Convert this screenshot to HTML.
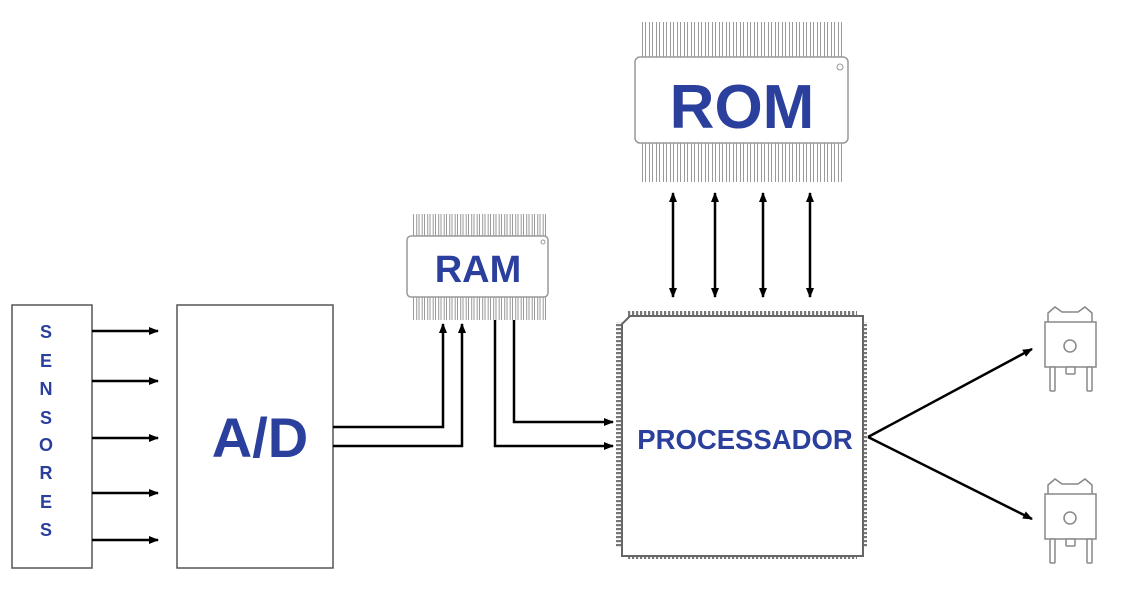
<!DOCTYPE html>
<html><head><meta charset="utf-8"><style>
html,body{margin:0;padding:0;background:#fff}
svg{display:block}
text{font-family:"Liberation Sans",sans-serif;font-weight:bold;fill:#2b3f9c}
</style></head><body>
<svg width="1133" height="598" viewBox="0 0 1133 598" xmlns="http://www.w3.org/2000/svg">
<defs>
<marker id="ah" markerWidth="10" markerHeight="10" refX="9" refY="5" orient="auto" markerUnits="userSpaceOnUse">
<path d="M0,1 L10,5 L0,9 Z" fill="#000"/></marker>
<marker id="ahs" markerWidth="10" markerHeight="10" refX="1" refY="5" orient="auto" markerUnits="userSpaceOnUse">
<path d="M10,1 L0,5 L10,9 Z" fill="#000"/></marker>
<pattern id="pinV" width="7" height="600" patternUnits="userSpaceOnUse">
<rect x="1.5" y="-5" width="4" height="610" rx="1.5" fill="#fff" stroke="#9a9a9a" stroke-width="1"/></pattern>
<pattern id="pinV2" width="5.5" height="600" patternUnits="userSpaceOnUse">
<rect x="1" y="-5" width="3.2" height="610" rx="1.2" fill="#fff" stroke="#9a9a9a" stroke-width="1"/></pattern>
<pattern id="pq" width="4" height="4" patternUnits="userSpaceOnUse">
<rect x="0" y="0" width="2.2" height="4" fill="#777"/></pattern>
<pattern id="pqv" width="4" height="4" patternUnits="userSpaceOnUse">
<rect x="0" y="0" width="4" height="2.2" fill="#777"/></pattern>
</defs>

<!-- Sensors -->
<rect x="12" y="305" width="80" height="263" fill="#fff" stroke="#555" stroke-width="1.5"/>
<g font-size="18" text-anchor="middle">
<text x="46" y="338">S</text><text x="46" y="367">E</text><text x="46" y="395">N</text><text x="46" y="424">S</text>
<text x="46" y="451">O</text><text x="46" y="479">R</text><text x="46" y="508">E</text><text x="46" y="536">S</text>
</g>
<g stroke="#000" stroke-width="2.5" marker-end="url(#ah)">
<line x1="92" y1="331" x2="158" y2="331"/><line x1="92" y1="381" x2="158" y2="381"/>
<line x1="92" y1="438" x2="158" y2="438"/><line x1="92" y1="493" x2="158" y2="493"/>
<line x1="92" y1="540" x2="158" y2="540"/>
</g>

<!-- A/D -->
<rect x="177" y="305" width="156" height="263" fill="#fff" stroke="#555" stroke-width="1.5"/>
<text x="260" y="457" font-size="56" text-anchor="middle">A/D</text>

<!-- RAM -->
<rect x="412" y="214" width="134" height="24" fill="url(#pinV2)"/>
<rect x="412" y="295" width="134" height="25" fill="url(#pinV2)"/>
<rect x="407" y="236" width="141" height="61" rx="4" fill="#fff" stroke="#999" stroke-width="1.5"/>
<circle cx="543" cy="242" r="2" fill="none" stroke="#999"/>
<text x="478" y="282" font-size="38" text-anchor="middle">RAM</text>

<!-- A/D to RAM -->
<g fill="none" stroke="#000" stroke-width="2.5">
<polyline points="333,427 443,427 443,324" marker-end="url(#ah)"/>
<polyline points="333,446 462,446 462,324" marker-end="url(#ah)"/>
<polyline points="514,320 514,422 613,422" marker-end="url(#ah)"/>
<polyline points="495,320 495,446 613,446" marker-end="url(#ah)"/>
</g>

<!-- ROM -->
<rect x="640" y="22" width="205" height="36" fill="url(#pinV)"/>
<rect x="640" y="142" width="205" height="40" fill="url(#pinV)"/>
<rect x="635" y="57" width="213" height="86" rx="5" fill="#fff" stroke="#999" stroke-width="1.5"/>
<circle cx="840" cy="67" r="3" fill="none" stroke="#999"/>
<text x="742" y="128" font-size="62" text-anchor="middle">ROM</text>

<!-- ROM-proc arrows -->
<g stroke="#000" stroke-width="2.5" marker-end="url(#ah)" marker-start="url(#ahs)">
<line x1="673" y1="193" x2="673" y2="297"/><line x1="715" y1="193" x2="715" y2="297"/>
<line x1="763" y1="193" x2="763" y2="297"/><line x1="810" y1="193" x2="810" y2="297"/>
</g>

<!-- Processor -->
<rect x="627" y="311" width="230" height="7" fill="url(#pq)"/>
<rect x="627" y="552" width="230" height="7" fill="url(#pq)"/>
<rect x="616" y="322" width="7" height="226" fill="url(#pqv)"/>
<rect x="860" y="322" width="7" height="226" fill="url(#pqv)"/>
<path d="M630,316 L863,316 L863,556 L622,556 L622,324 Z" fill="#fff" stroke="#666" stroke-width="2"/>
<text x="745" y="449" font-size="27.5" text-anchor="middle">PROCESSADOR</text>

<!-- outputs -->
<g stroke="#000" stroke-width="2.5" marker-end="url(#ah)">
<line x1="868" y1="437" x2="1032" y2="349"/>
<line x1="868" y1="437" x2="1032" y2="519"/>
</g>

<!-- transistors -->
<g id="tr" fill="#fff" stroke="#888" stroke-width="1.5">
<path d="M1048,322 L1048,313 L1055,307 L1062,312 L1078,312 L1085,307 L1092,313 L1092,322"/>
<rect x="1045" y="322" width="51" height="45"/>
<circle cx="1070" cy="346" r="6"/>
<rect x="1050" y="367" width="5" height="24" rx="1"/>
<rect x="1087" y="367" width="5" height="24" rx="1"/>
<rect x="1066" y="367" width="9" height="7" rx="1"/>
</g>
<use href="#tr" y="172"/>
</svg>
</body></html>
